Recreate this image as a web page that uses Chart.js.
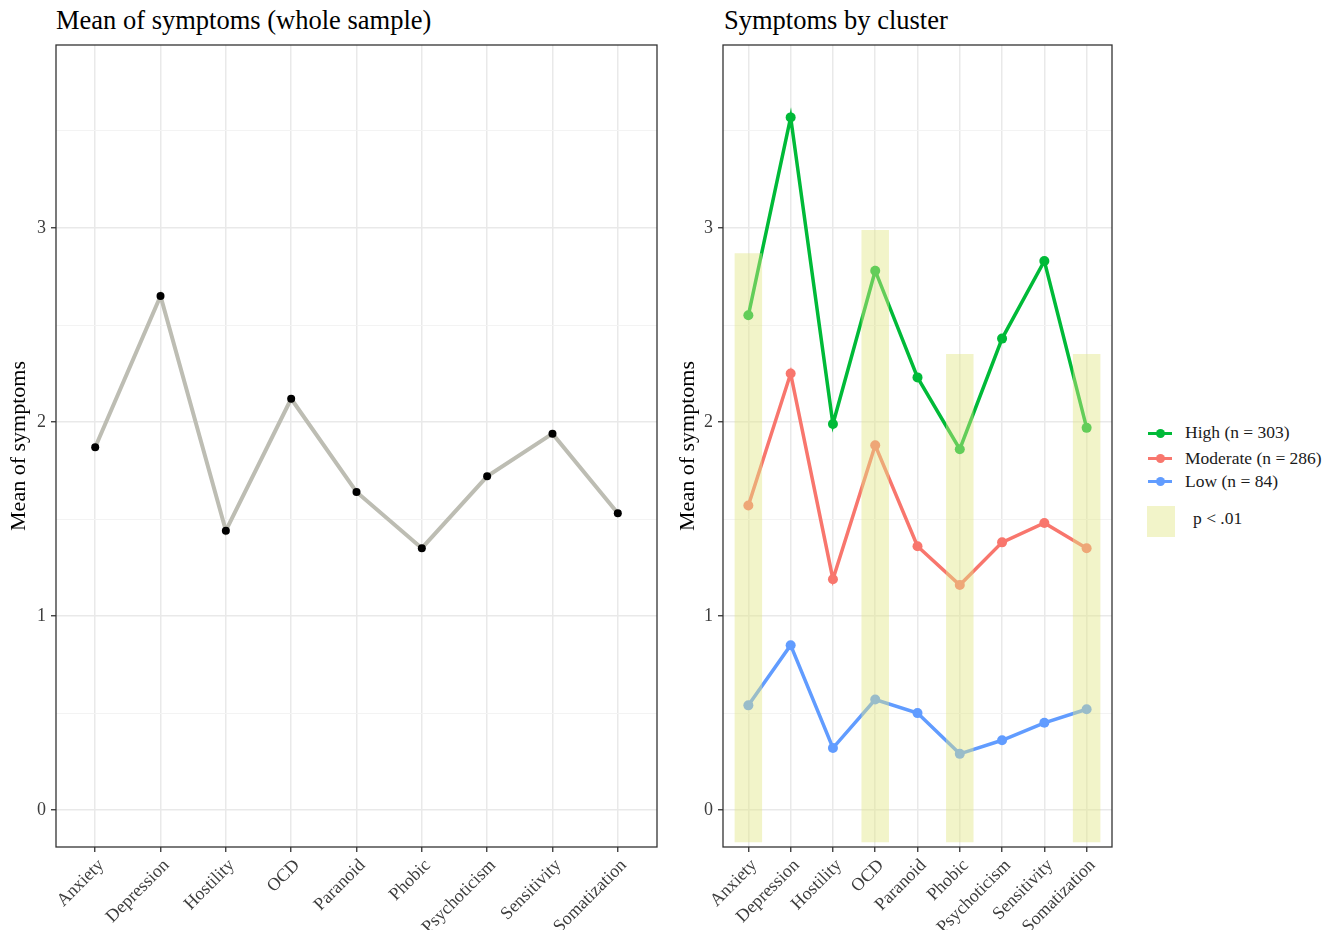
<!DOCTYPE html>
<html>
<head>
<meta charset="utf-8">
<script src="https://cdn.jsdelivr.net/npm/chart.js@4.4.0/dist/chart.umd.min.js"></script>
<style>
  body { margin: 0; background: #fff; width: 1335px; height: 930px; position: relative; overflow: hidden;
         font-family: 'Liberation Serif', 'Times New Roman', serif; }
  .title { position: absolute; top: 7px; font-size: 26.5px; line-height: 26px; color: #000; white-space: nowrap; }
  canvas { position: absolute; top: 0; }
  #leftChart { left: 0; }
  #rightChart { left: 670px; }
  .lbl { position: absolute; left: 1185px; font-size: 17.5px; line-height: 17.5px; color: #1a1a1a; white-space: nowrap; }
  .key { position: absolute; left: 1148px; width: 24px; height: 3px; }
  .key span { position: absolute; left: 8px; top: -3px; width: 9px; height: 9px; border-radius: 50%; background: inherit; }
  .sigbox { position: absolute; left: 1147px; top: 506px; width: 28px; height: 31px; background: rgba(226,229,133,0.44); }
</style>
</head>
<body>
<div class="title" style="left:56px">Mean of symptoms (whole sample)</div>
<div class="title" style="left:724px">Symptoms by cluster</div>
<canvas id="leftChart" width="670" height="930"></canvas>
<canvas id="rightChart" width="460" height="930"></canvas>

<div class="key" style="top:432px;background:#00BA38"><span></span></div>
<div class="lbl" style="top:424px">High (n = 303)</div>
<div class="key" style="top:457px;background:#F8766D"><span></span></div>
<div class="lbl" style="top:450px">Moderate (n = 286)</div>
<div class="key" style="top:480px;background:#619CFF"><span></span></div>
<div class="lbl" style="top:473px">Low (n = 84)</div>
<div class="sigbox"></div>
<div class="lbl" style="top:510px;left:1193px">p &lt; .01</div>

<script>
const symptoms = ['Anxiety', 'Depression', 'Hostility', 'OCD', 'Paranoid', 'Phobic', 'Psychoticism', 'Sensitivity', 'Somatization'];
const wholeSample = [1.87, 2.65, 1.44, 2.12, 1.64, 1.35, 1.72, 1.94, 1.53];
const highCluster = [2.55, 3.57, 1.99, 2.78, 2.23, 1.86, 2.43, 2.83, 1.97];
const moderateCluster = [1.57, 2.25, 1.19, 1.88, 1.36, 1.16, 1.38, 1.48, 1.35];
const lowCluster = [0.54, 0.85, 0.32, 0.57, 0.50, 0.29, 0.36, 0.45, 0.52];
// yellow bands for p < .01 (null = not significant)
const sigTop = [2.87, null, null, 2.99, null, 2.35, null, null, 2.35];
const sigBottom = -0.165;
const yMajor = [0, 1, 2, 3];
const yMinor = [0.5, 1.5, 2.5, 3.5];

const FONT = "'Liberation Serif', 'Times New Roman', serif";
const tickFont = { family: FONT, size: 18 };

const toPoints = vals => vals.map((v, i) => ({ x: i + 1, y: v }));
const isMajor = v => yMajor.includes(v);

const panelBorder = {
  id: 'panelBorder',
  afterDraw(chart) {
    const { ctx, chartArea: a } = chart;
    ctx.save();
    ctx.strokeStyle = '#333';
    ctx.lineWidth = 1.3;
    ctx.strokeRect(a.left, a.top, a.right - a.left, a.bottom - a.top);
    ctx.restore();
  }
};

function makeScales(yWidth, titlePad) {
  return {
    x: {
      type: 'linear', min: 0.4, max: 9.6, offset: false,
      afterBuildTicks: s => { s.ticks = symptoms.map((_, i) => ({ value: i + 1 })); },
      afterFit: s => { s.height = 83; },
      grid: { offset: false, color: '#e9e9e9', lineWidth: 1.5, tickColor: '#333', tickLength: 5, tickWidth: 1.3 },
      border: { display: false },
      ticks: { autoSkip: false, minRotation: 45, maxRotation: 45, padding: 3, labelOffset: 6, color: '#3d3d3d', font: tickFont,
               callback: v => symptoms[v - 1] }
    },
    y: {
      min: -0.19, max: 3.943,
      afterBuildTicks: s => { s.ticks = yMajor.concat(yMinor).sort((a, b) => a - b).map(v => ({ value: v })); },
      afterFit: s => { s.width = yWidth; },
      grid: {
        color: c => isMajor(c.tick.value) ? '#e9e9e9' : '#f3f3f3',
        lineWidth: c => isMajor(c.tick.value) ? 1.5 : 1,
        tickColor: c => isMajor(c.tick.value) ? '#333' : 'rgba(0,0,0,0)',
        tickLength: 5, tickWidth: 1.3
      },
      border: { display: false },
      ticks: { padding: 5, color: '#3d3d3d', font: tickFont, callback: v => isMajor(v) ? String(v) : '' },
      title: { display: true, text: 'Mean of symptoms', color: '#000', font: { family: FONT, size: 22 },
               padding: { top: titlePad, bottom: 0 } }
    }
  };
}

const commonPlugins = { legend: { display: false }, tooltip: { enabled: false } };

new Chart(document.getElementById('leftChart'), {
  type: 'line',
  data: {
    datasets: [{
      data: toPoints(wholeSample),
      borderColor: '#bdbdb3', borderWidth: 4,
      pointBackgroundColor: '#000', pointBorderColor: '#000', pointBorderWidth: 0, pointRadius: 4,
      tension: 0
    }]
  },
  options: {
    responsive: false, animation: false,
    layout: { padding: { left: 0, right: 13, top: 45, bottom: 0 } },
    scales: makeScales(56, 6),
    plugins: commonPlugins
  },
  plugins: [panelBorder]
});

const lineSet = (vals, color, order) => ({
  type: 'line', data: toPoints(vals), order,
  borderColor: color, borderWidth: 3.5,
  pointBackgroundColor: color, pointBorderColor: color, pointBorderWidth: 0, pointRadius: 5,
  tension: 0
});

new Chart(document.getElementById('rightChart'), {
  type: 'line',
  data: {
    datasets: [
      {
        type: 'bar', order: 0,
        data: sigTop.map((t, i) => ({ x: i + 1, y: t === null ? null : [sigBottom, t] })),
        backgroundColor: 'rgba(226,229,133,0.44)', borderWidth: 0,
        categoryPercentage: 1, barPercentage: 0.65
      },
      lineSet(highCluster, '#00BA38', 1),
      lineSet(moderateCluster, '#F8766D', 2),
      lineSet(lowCluster, '#619CFF', 3)
    ]
  },
  options: {
    responsive: false, animation: false,
    layout: { padding: { left: 0, right: 18, top: 45, bottom: 0 } },
    scales: makeScales(53, 5),
    plugins: commonPlugins
  },
  plugins: [panelBorder]
});
</script>
</body>
</html>
